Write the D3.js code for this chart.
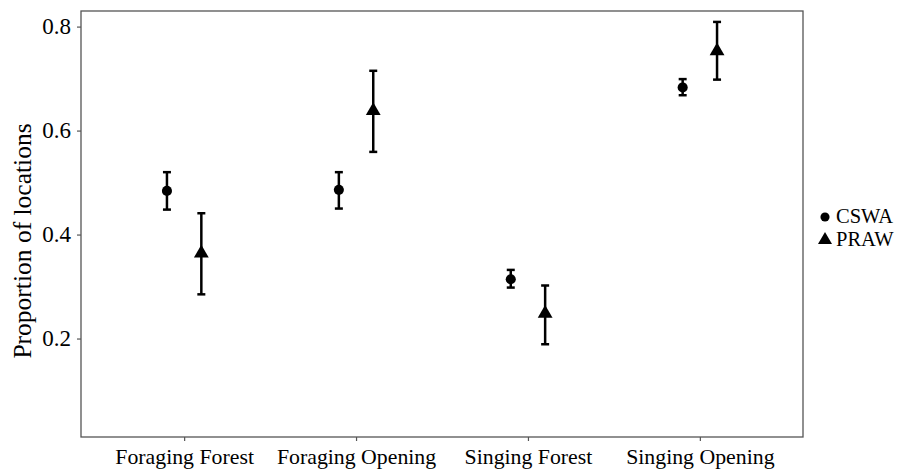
<!DOCTYPE html>
<html>
<head>
<meta charset="utf-8">
<script src="https://cdn.jsdelivr.net/npm/d3@7"></script>
<style>
  html, body { margin: 0; padding: 0; background: #fff; }
  svg { display: block; }
  text { font-family: "Liberation Serif", "Times New Roman", serif; fill: #000; }
</style>
</head>
<body>
<svg id="chart" width="909" height="472"></svg>
<script>
const categories = ["Foraging Forest", "Foraging Opening", "Singing Forest", "Singing Opening"];
const seriesNames = ["CSWA", "PRAW"];
const cswaMean  = [0.484, 0.486, 0.314, 0.683];
const cswaLower = [0.448, 0.450, 0.298, 0.668];
const cswaUpper = [0.520, 0.520, 0.332, 0.699];
const prawMean  = [0.364, 0.638, 0.248, 0.753];
const prawLower = [0.285, 0.559, 0.189, 0.698];
const prawUpper = [0.441, 0.715, 0.302, 0.809];
const yTicks = [0.2, 0.4, 0.6, 0.8];
const yTitle = "Proportion of locations";

const rows = [];
categories.forEach((c, i) => {
  rows.push({cat: c, series: "CSWA", mean: cswaMean[i], lo: cswaLower[i], hi: cswaUpper[i]});
  rows.push({cat: c, series: "PRAW", mean: prawMean[i], lo: prawLower[i], hi: prawUpper[i]});
});

const panel = {left: 81, right: 803, top: 11, bottom: 437};
const svg = d3.select("#chart");

const x = d3.scalePoint().domain(categories).range([panel.left, panel.right]).padding(0.6);
const dodge = d3.scalePoint().domain(seriesNames).range([-0.1, 0.1]);
const y = d3.scaleLinear().domain([0.0106, 0.830]).range([panel.bottom, panel.top]);
const px = d => x(d.cat) + dodge(d.series) * x.step();

// panel border
svg.append("rect")
  .attr("x", panel.left).attr("y", panel.top)
  .attr("width", panel.right - panel.left).attr("height", panel.bottom - panel.top)
  .attr("fill", "none").attr("stroke", "#555").attr("stroke-width", 1.3);

// y axis
const yAxis = d3.axisLeft(y).tickValues(yTicks).tickFormat(d3.format(".1f")).tickSize(4).tickPadding(6);
const gy = svg.append("g").attr("transform", `translate(${panel.left},0)`).call(yAxis);
gy.select(".domain").remove();
gy.selectAll(".tick line").attr("stroke", "#555").attr("stroke-width", 1.2);
gy.selectAll(".tick text").attr("font-size", 23).attr("font-family", "Liberation Serif").attr("fill", "#1a1a1a");

// x axis
const xAxis = d3.axisBottom(x).tickSize(4).tickPadding(8);
const gx = svg.append("g").attr("transform", `translate(0,${panel.bottom})`).call(xAxis);
gx.select(".domain").remove();
gx.selectAll(".tick line").attr("stroke", "#555").attr("stroke-width", 1.2);
gx.selectAll(".tick text").attr("font-size", 21.8).attr("font-family", "Liberation Serif").attr("fill", "#1a1a1a");

// y title
svg.append("text")
  .attr("transform", `translate(25,241) rotate(-90)`)
  .attr("text-anchor", "middle").attr("dominant-baseline", "middle")
  .attr("font-size", 25.5).text(yTitle);

// error bars
const capW = 4;
const eb = svg.append("g").attr("stroke", "#000").attr("stroke-width", 2.5).attr("fill", "none");
rows.forEach(d => {
  const cx = px(d);
  eb.append("line").attr("x1", cx).attr("x2", cx).attr("y1", y(d.lo)).attr("y2", y(d.hi));
  eb.append("line").attr("x1", cx - capW).attr("x2", cx + capW).attr("y1", y(d.lo)).attr("y2", y(d.lo));
  eb.append("line").attr("x1", cx - capW).attr("x2", cx + capW).attr("y1", y(d.hi)).attr("y2", y(d.hi));
});

// points
const symCircle = d3.symbol().type(d3.symbolCircle).size(80);
const symTri = d3.symbol().type(d3.symbolTriangle).size(95);
svg.append("g").selectAll("path").data(rows).join("path")
  .attr("transform", d => `translate(${px(d)},${y(d.mean)})`)
  .attr("d", d => d.series === "CSWA" ? symCircle() : symTri())
  .attr("fill", "#000");

// legend
const legend = svg.append("g").attr("transform", "translate(825,217)");
seriesNames.forEach((s, i) => {
  const g = legend.append("g").attr("transform", `translate(0,${i * 23})`);
  g.append("path").attr("d", i === 0 ? d3.symbol().type(d3.symbolCircle).size(65)() : d3.symbol().type(d3.symbolTriangle).size(85)())
    .attr("fill", "#000");
  g.append("text").attr("x", 11).attr("y", 1).attr("dominant-baseline", "middle")
    .attr("font-size", 20.5).text(s);
});
</script>
</body>
</html>
